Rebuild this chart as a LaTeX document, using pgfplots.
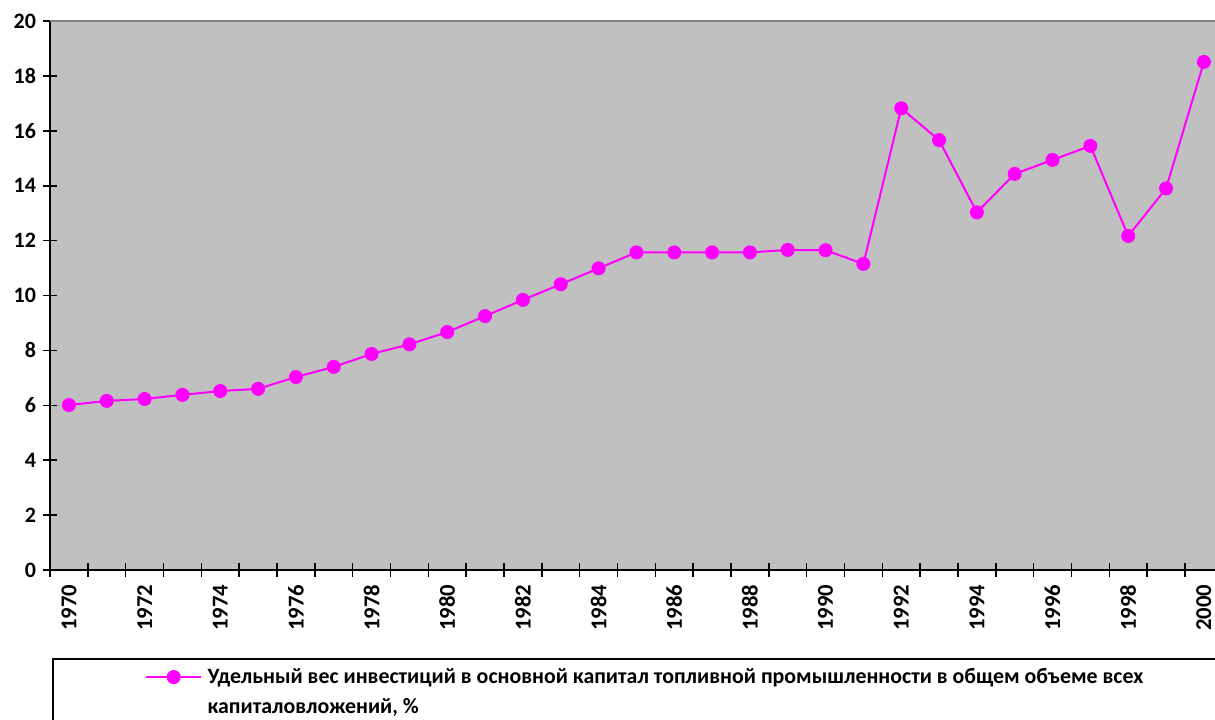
\documentclass[border=0pt]{standalone}
\usepackage{fontspec}
\setmainfont{Carlito}
\usepackage{pgfplots}
\pgfplotsset{compat=1.18}

\definecolor{plotbg}{HTML}{C0C0C0}
\definecolor{series}{HTML}{FF00FF}
\definecolor{topline}{HTML}{808080}

\begin{document}
\begin{tikzpicture}
\path[use as bounding box] (0pt,0pt) rectangle (911.25pt,539.25pt);

% frame of the legend (runs past the page edge)
\draw[line width=1.5pt] (950pt,45pt) -- (39.75pt,45pt) -- (39.75pt,-30pt);

\begin{axis}[
  at={(37.5pt,111.75pt)}, anchor=south west,
  scale only axis,
  width=879.6pt, height=411.75pt,
  xmin=-0.5, xmax=30.5,
  ymin=0, ymax=20,
  axis background/.style={fill=plotbg},
  axis x line*=bottom, axis y line*=left,
  axis line style={black, line width=1.5pt, -},
  tick align=center,
  major tick length=10pt,
  tick style={black, line width=1.2pt},
  ytick={0,2,...,20},
  xtick={-0.5,0.5,...,29.5},
  xticklabels={},
  extra x ticks={0,2,...,30},
  extra x tick labels={1970,1972,1974,1976,1978,1980,1982,1984,1986,1988,1990,1992,1994,1996,1998,2000},
  extra x tick style={major tick length=0pt},
  /pgf/number format/assume math mode=true,
  y tick label style={xshift=-2pt, font=\bfseries\fontsize{16.5}{16.5}\selectfont},
  x tick label style={rotate=90, anchor=east, font=\bfseries\fontsize{17}{17}\selectfont},
  xticklabel shift=7.5pt,
  legend style={at={(axis description cs:0.081,-0.195)}, anchor=west,
    draw=none, fill=none, inner sep=0pt, column sep=2pt,
    font=\bfseries\fontsize{16.4}{22.5}\selectfont,
    cells={anchor=west, text depth=0pt, inner sep=0pt}},
  legend image code/.code={\draw[mark repeat=2, mark phase=2, #1]
    plot coordinates {(0pt,0pt) (20.6pt,0pt) (41.25pt,0pt)};},
  clip=false,
]
\addplot[series, line width=1.5pt, mark=*, mark size=4.5pt,
  mark options={fill=series, draw=series}]
coordinates {
(0,6.01) (1,6.16) (2,6.23) (3,6.38) (4,6.52) (5,6.60) (6,7.03) (7,7.40)
(8,7.87) (9,8.22) (10,8.67) (11,9.25) (12,9.84) (13,10.41) (14,10.99)
(15,11.57) (16,11.57) (17,11.57) (18,11.57) (19,11.66) (20,11.65)
(21,11.15) (22,16.82) (23,15.66) (24,13.03) (25,14.43) (26,14.94)
(27,15.45) (28,12.17) (29,13.90) (30,18.51)
};
\addlegendentry{\parbox[t]{760pt}{Удельный вес инвестиций в основной капитал топливной промышленности в общем объеме всех\\капиталовложений, \%}}
\draw[topline, line width=1.5pt] (rel axis cs:0,1) -- (rel axis cs:1,1);
\end{axis}
\end{tikzpicture}
\end{document}
